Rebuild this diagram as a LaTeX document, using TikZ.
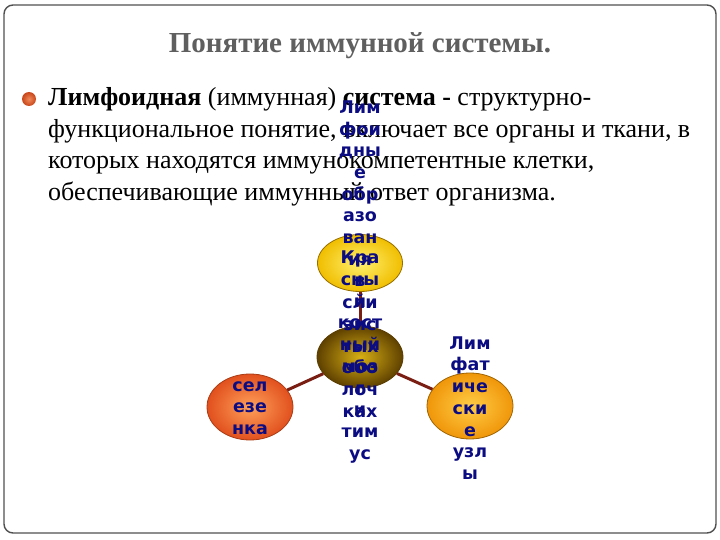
\documentclass[tikz,border=0pt]{standalone}
\usepackage{fontspec}
\setmainfont{Liberation Serif}
\newfontfamily\nf{DejaVu Sans}
\usetikzlibrary{shapes.geometric}
\definecolor{titlegray}{HTML}{5F5F5F}
\definecolor{navy}{HTML}{0C0C82}
\definecolor{conn}{HTML}{7A1E14}
\definecolor{framegray}{HTML}{505050}
\definecolor{bulletin}{HTML}{F08A5A}
\definecolor{bulletout}{HTML}{C8461A}
\tikzset{
  orb/.style={ellipse, inner sep=0pt, line width=0.8pt},
  orbtext/.style={align=center, text=navy, font=\nf\bfseries\fontsize{17.5}{21.7}\selectfont, inner sep=0pt},
  link/.style={draw=conn, line width=3pt},
  bodytext/.style={anchor=base west, inner sep=0pt, font=\fontsize{26}{30}\selectfont}
}
\begin{document}
\begin{tikzpicture}[x=1pt,y=-1pt]
\useasboundingbox (0,0) rectangle (720,540);
\fill[white] (0,0) rectangle (720,540);
\draw[framegray, line width=1.4pt, rounded corners=9pt] (4,5) rectangle (716,533);
% title
\node[text=titlegray, font=\bfseries\fontsize{29}{34}\selectfont] (title) at (360,46) {Понятие иммунной системы.};
% bullet
\shade[inner color=bulletin, outer color=bulletout] (29,99) circle (7);
\node[bodytext] (l1) at (48,106) {\textbf{Лимфоидная} (иммунная) \textbf{система -} структурно-};
\node[bodytext] (l2) at (48,138) {функциональное понятие, включает все органы и ткани, в};
\node[bodytext] (l3) at (48,169) {которых находятся иммунокомпетентные клетки,};
\node[bodytext] (l4) at (48,201) {обеспечивающие иммунный ответ организма.};
% ellipses
\node[orb, minimum width=85pt, minimum height=57pt, draw={rgb,255:red,150;green,110;blue,0}, inner color={rgb,255:red,255;green,240;blue,110}, outer color={rgb,255:red,240;green,190;blue,0}] (top) at (360,263) {};
\node[orb, minimum width=86pt, minimum height=62pt, draw={rgb,255:red,90;green,60;blue,0}, inner color={rgb,255:red,215;green,175;blue,20}, outer color={rgb,255:red,95;green,65;blue,0}] (mid) at (360,357) {};
\node[orb, minimum width=86pt, minimum height=66pt, draw={rgb,255:red,170;green,60;blue,20}, inner color={rgb,255:red,255;green,160;blue,90}, outer color={rgb,255:red,225;green,80;blue,30}] (left) at (250,407) {};
\node[orb, minimum width=86pt, minimum height=66pt, draw={rgb,255:red,160;green,100;blue,0}, inner color={rgb,255:red,255;green,205;blue,70}, outer color={rgb,255:red,240;green,150;blue,10}] (right) at (470,406) {};
% connectors
\draw[link] (mid) -- (top);
\draw[link] (mid) -- (left);
\draw[link] (mid) -- (right);
% texts
\node[orbtext] (toptext) at (360,259) {Лим\\фои\\дны\\е\\обр\\азо\\ван\\ия\\в\\сли\\зис\\тых\\обо\\лоч\\ках};
\node[orbtext] (midtext) at (360,357) {Кра\\сны\\й\\кост\\ный\\моз\\г\\и\\тим\\ус};
\node[orbtext] (lefttext) at (250,408) {сел\\езе\\нка};
\node[orbtext] (righttext) at (470,408) {Лим\\фат\\иче\\ски\\е\\узл\\ы};
\end{tikzpicture}
\end{document}
